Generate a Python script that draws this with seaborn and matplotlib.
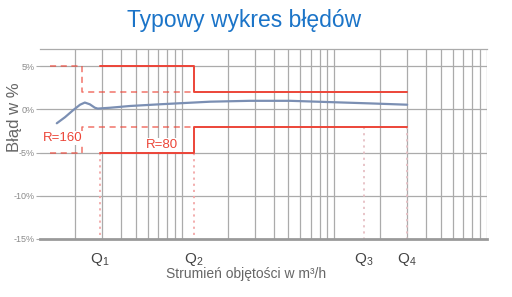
import matplotlib
matplotlib.use("Agg")
import matplotlib.pyplot as plt
import seaborn as sns
import pandas as pd
import numpy as np

# ---- data ----
curve_x = [0.76, 0.86, 0.97, 1.08, 1.16, 1.25, 1.35, 1.41, 1.70, 2.29, 3.61, 7.7, 14.0, 25.7, 47, 86, 150]
curve_y = [-1.6, -0.9, -0.1, 0.55, 0.8, 0.6, 0.2, 0.1, 0.2, 0.4, 0.6, 0.9, 1.0, 1.0, 0.85, 0.7, 0.55]

r80_x_upper = [1.46, 6.0, 6.0, 150]
r80_y_upper = [5, 5, 2, 2]
r80_y_lower = [-5, -5, -2, -2]

r160_x = [0.69, 1.11, 1.11, 6.0]
r160_y_upper = [5, 5, 2, 2]
r160_y_lower = [-5, -5, -2, -2]

q_pos = [1.46, 6.0, 78, 150]
q_labels = ["Q$_{1}$", "Q$_{2}$", "Q$_{3}$", "Q$_{4}$"]
q_dot_top = [-5, -5, -2, -2]

y_ticks = [5, 0, -5, -10, -15]
y_ticklabels = ["5%", "0%", "-5%", "-10%", "-15%"]

grid_mult = [1, 1.5, 2, 2.5, 3, 3.5, 4, 4.5, 5]
decades = [1, 10, 100]

title = "Typowy wykres błędów"
xlabel = "Strumień objętości w m³/h"
ylabel = "Błąd w %"

# ---- style ----
sns.set_style("white")
plt.rcParams['font.family'] = ['Liberation Sans', 'DejaVu Sans']
plt.rcParams['mathtext.default'] = 'regular'

RED = "#ec4538"
BLUE = "#7b8fb3"
GRID = "#ababab"

fig = plt.figure(figsize=(5.12, 2.97), dpi=100)
ax = fig.add_axes([40/512, 1-239/297, (487-40)/512, (239-49)/297])
ax.set_xscale("log")
ax.set_xlim(0.59, 500)
ax.set_ylim(-15, 7)

# grid
for d in decades:
    for m in grid_mult:
        ax.axvline(d*m, color=GRID, lw=0.9, zorder=0)
for yv in [5, 0, -5, -10]:
    ax.axhline(yv, color=GRID, lw=0.9, zorder=0)

# dotted Q lines
for q, top in zip(q_pos, q_dot_top):
    col = "#f2a7a7" if top == -5 else "#e6bfc4"
    ax.plot([q, q], [top, -15], ls=(0, (1.2, 2.2)), color=col, lw=1.3, zorder=1)

# red limits
df80 = pd.DataFrame({"x": r80_x_upper + r80_x_upper,
                     "y": r80_y_upper + r80_y_lower,
                     "s": ["u"]*4 + ["l"]*4})
df160 = pd.DataFrame({"x": r160_x + r160_x,
                      "y": r160_y_upper + r160_y_lower,
                      "s": ["u"]*4 + ["l"]*4})
for s in ["u", "l"]:
    sub = df160[df160.s == s]
    ax.plot(sub.x, sub.y, color=RED, lw=1.1, ls=(0, (4, 3)), alpha=0.75, zorder=2)
    sub = df80[df80.s == s]
    sns.lineplot(x=sub.x, y=sub.y, sort=False, estimator=None, color=RED, lw=1.4, ax=ax, zorder=3)

# curve
sns.lineplot(x=curve_x, y=curve_y, sort=False, estimator=None, color=BLUE, lw=1.6, ax=ax, zorder=4)

# labels R
ax.text(0.834, -3.3, "R=160", color=RED, fontsize=9.5, ha="center", va="center",
        bbox=dict(facecolor="white", edgecolor="none", pad=0.5), zorder=5)
ax.text(3.72, -4.1, "R=80", color=RED, fontsize=9.5, ha="center", va="center",
        bbox=dict(facecolor="white", edgecolor="none", pad=0.5), zorder=5)

# spines
for s in ["left", "right"]:
    ax.spines[s].set_visible(False)
ax.spines["top"].set_color(GRID)
ax.spines["top"].set_linewidth(0.9)
ax.spines["bottom"].set_color("#9a9a9a")
ax.spines["bottom"].set_linewidth(2.0)

ax.set_yticks(y_ticks)
ax.set_yticklabels(y_ticklabels, fontsize=6.5, color="#8a8a8a")
ax.tick_params(axis="y", length=3, color=GRID, pad=1, left=True)
ax.set_xticks(q_pos)
ax.set_xticklabels(q_labels, fontsize=11, color="#444444")
ax.xaxis.set_minor_locator(matplotlib.ticker.NullLocator())
ax.tick_params(axis="x", length=0, pad=9)
ax.set_xlabel("")
ax.set_ylabel("")

fig.text(246/512, 1-274/297, xlabel, ha="center", va="center", fontsize=10, color="#666666")
fig.text(14/512, 1-117/297, ylabel, ha="center", va="center", rotation=90, fontsize=12, color="#666666")
fig.text(244/512, 1-20/297, title, ha="center", va="center", fontsize=16.5, color="#1b74c8")

fig.savefig("out.png", dpi=100)
